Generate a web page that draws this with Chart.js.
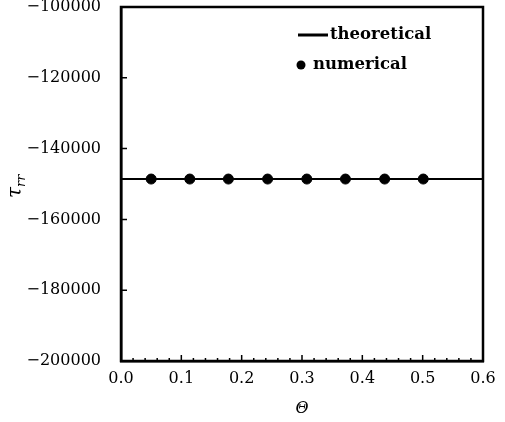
<!DOCTYPE html>
<html>
<head>
<meta charset="utf-8">
<script src="https://cdn.jsdelivr.net/npm/chart.js@4/dist/chart.umd.min.js"></script>
<style>
  body { margin: 0; background: #fff; }
</style>
</head>
<body>
<canvas id="chart_trr" width="505" height="422"></canvas>
<script>
// data
let theta_line = [0.0, 0.6]
let trr_line = [-148600, -148600]
let theta_num = [0.050, 0.114, 0.178, 0.243, 0.308, 0.372, 0.437, 0.501]
let trr_num = [-148600, -148600, -148600, -148600, -148600, -148600, -148600, -148600]
let y_ticks = [-200000, -180000, -160000, -140000, -120000, -100000]
let x_ticks = [0.0, 0.1, 0.2, 0.3, 0.4, 0.5, 0.6]
let legend_names = ["theoretical", "numerical"]

const SERIF = "'DejaVu Serif', 'Liberation Serif', serif"

// box, inner ticks, legend and y title
const framePlugin = {
  id: 'frame',
  afterDraw(chart) {
    let ctx = chart.ctx, a = chart.chartArea
    let xs = chart.scales.x, ys = chart.scales.y
    ctx.save()
    ctx.strokeStyle = '#000'
    ctx.lineWidth = 2.5
    ctx.strokeRect(a.left, a.top, a.right - a.left, a.bottom - a.top)

    ctx.lineWidth = 1.5
    ctx.beginPath()
    for (let i = 1; i < 30; i++) {
      let px = xs.getPixelForValue(i * 0.02)
      let len = (i % 5 === 0) ? 6 : 3
      ctx.moveTo(px, a.bottom)
      ctx.lineTo(px, a.bottom - len)
    }
    y_ticks.slice(1, -1).forEach(v => {
      let py = ys.getPixelForValue(v)
      ctx.moveTo(a.left, py)
      ctx.lineTo(a.left + 6, py)
    })
    ctx.stroke()

    // legend
    ctx.fillStyle = '#000'
    ctx.font = 'bold 16.5px ' + SERIF
    ctx.textBaseline = 'middle'
    ctx.lineWidth = 3
    ctx.beginPath()
    ctx.moveTo(298, 35)
    ctx.lineTo(328, 35)
    ctx.stroke()
    ctx.fillText(legend_names[0], 330, 35)
    ctx.beginPath()
    ctx.arc(301, 65, 4.5, 0, Math.PI * 2)
    ctx.fill()
    ctx.fillText(legend_names[1], 313, 65)

    // y title tau_rr
    ctx.translate(16, (a.top + a.bottom) / 2)
    ctx.rotate(-Math.PI / 2)
    ctx.textAlign = 'left'
    ctx.textBaseline = 'alphabetic'
    ctx.font = 'italic 20px ' + SERIF
    let w = ctx.measureText('τ').width
    ctx.fillText('τ', -14, 5)
    ctx.font = 'italic 13px ' + SERIF
    ctx.fillText('rr', -14 + w, 9)
    ctx.restore()
  }
}

var ctx = document.getElementById('chart_trr').getContext('2d');
var myChart = new Chart(ctx, {
  type: 'scatter',
  data: {
    datasets: [{
      label: legend_names[0],
      type: 'line',
      data: theta_line.map((t, i) => ({x: t, y: trr_line[i]})),
      borderColor: '#000',
      borderWidth: 2,
      pointRadius: 0,
      order: 2
    }, {
      label: legend_names[1],
      data: theta_num.map((t, i) => ({x: t, y: trr_num[i]})),
      backgroundColor: '#000',
      borderColor: '#000',
      pointRadius: 5,
      order: 1
    }]
  },
  options: {
    responsive: false,
    animation: false,
    layout: { padding: { top: 7, right: 22, left: 0, bottom: 0 } },
    plugins: { legend: { display: false }, tooltip: { enabled: false } },
    scales: {
      x: {
        type: 'linear',
        min: 0, max: 0.6,
        afterBuildTicks: s => { s.ticks = x_ticks.map(v => ({value: v})) },
        afterFit: s => { s.height = 61; s.paddingRight = 0; s.paddingLeft = 0 },
        grid: { display: false },
        border: { display: true, color: '#000', width: 2.5 },
        ticks: {
          color: '#000', padding: 0, maxRotation: 0, autoSkip: false,
          font: { family: SERIF, size: 16 },
          callback: v => v.toFixed(1)
        },
        title: {
          display: true, text: 'Θ', color: '#000', padding: { top: 0 },
          font: { family: SERIF, size: 16, style: 'italic' }
        }
      },
      y: {
        type: 'linear',
        min: -200000, max: -100000,
        afterBuildTicks: s => { s.ticks = y_ticks.map(v => ({value: v})) },
        afterFit: s => { s.width = 121; s.paddingTop = 0; s.paddingBottom = 0 },
        grid: { display: false },
        border: { display: true, color: '#000', width: 2.5 },
        ticks: {
          color: '#000', padding: 12, autoSkip: false,
          font: { family: SERIF, size: 16 },
          callback: v => '−' + Math.abs(v)
        }
      }
    }
  },
  plugins: [framePlugin]
});
</script>
</body>
</html>
